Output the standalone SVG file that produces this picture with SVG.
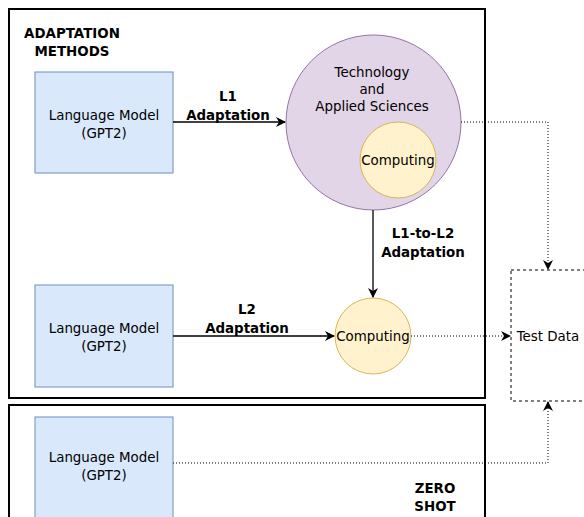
<svg xmlns="http://www.w3.org/2000/svg" width="584" height="517" viewBox="0 0 584 517">
<style>
text{font-family:"DejaVu Sans",Verdana,sans-serif;font-size:13.4px;fill:#000;text-anchor:middle;dominant-baseline:central}
.b{font-weight:bold}
.frame{fill:#fff;stroke:#000;stroke-width:2}
.lm{fill:#dae8fc;stroke:#6c8ebf;stroke-width:1}
.dom{fill:#e1d5e7;stroke:#9673a6;stroke-width:1}
.sub{fill:#fff2cc;stroke:#d6b656;stroke-width:1}
.solid{fill:none;stroke:#000;stroke-width:1.3}
.dot{fill:none;stroke:#000;stroke-width:1;stroke-dasharray:1 2}
</style>
<defs>
<marker id="ah" viewBox="0 0 10 10" refX="9" refY="5" markerWidth="10" markerHeight="10" markerUnits="userSpaceOnUse" orient="auto">
<path d="M0,0 L10,5 L0,10 L3,5 Z" fill="#000"/>
</marker>
</defs>
<rect width="584" height="517" fill="#fff"/>
<g id="adaptation-frame">
<rect class="frame" x="9" y="9" width="476" height="389"/>
<text class="b" x="72" y="33">ADAPTATION</text>
<text class="b" x="72" y="51">METHODS</text>
</g>
<g id="zeroshot-frame">
<rect class="frame" x="9" y="405" width="476" height="130"/>
<text class="b" x="435" y="488">ZERO</text>
<text class="b" x="435" y="506">SHOT</text>
</g>
<g id="test-data">
<rect x="511" y="270" width="75" height="131" fill="#fff" stroke="#000" stroke-width="1" stroke-dasharray="3 3"/>
<text x="548" y="336">Test Data</text>
</g>
<g id="lm1">
<rect class="lm" x="35" y="72" width="138" height="101"/>
<text x="104" y="115">Language Model</text>
<text x="104" y="133">(GPT2)</text>
</g>
<g id="lm2">
<rect class="lm" x="35" y="285" width="138" height="102"/>
<text x="104" y="328">Language Model</text>
<text x="104" y="346">(GPT2)</text>
</g>
<g id="lm3">
<rect class="lm" x="35" y="417" width="138" height="101"/>
<text x="104" y="457">Language Model</text>
<text x="104" y="475">(GPT2)</text>
</g>
<g id="tech">
<circle class="dom" cx="373.5" cy="122.5" r="87.5"/>
<text x="372" y="72">Technology</text>
<text x="372" y="89">and</text>
<text x="372" y="106">Applied Sciences</text>
</g>
<g id="computing-inner">
<circle class="sub" cx="398" cy="160" r="38"/>
<text x="398" y="160">Computing</text>
</g>
<g id="computing">
<circle class="sub" cx="373" cy="336" r="38"/>
<text x="373" y="336">Computing</text>
</g>
<g id="connectors">
<line class="solid" x1="173" y1="122" x2="285" y2="122" marker-end="url(#ah)"/>
<line class="solid" x1="373" y1="210" x2="373" y2="297" marker-end="url(#ah)"/>
<line class="solid" x1="173" y1="336" x2="334" y2="336" marker-end="url(#ah)"/>
<polyline class="dot" points="461,122 548,122 548,269" marker-end="url(#ah)"/>
<line class="dot" x1="411" y1="336" x2="510" y2="336" marker-end="url(#ah)"/>
<polyline class="dot" points="173,463 548,463 548,402" marker-end="url(#ah)"/>
<g class="labels">
<text class="b" x="228" y="96">L1</text>
<text class="b" x="228" y="115">Adaptation</text>
<text class="b" x="423" y="233">L1-to-L2</text>
<text class="b" x="423" y="252">Adaptation</text>
<text class="b" x="247" y="309">L2</text>
<text class="b" x="247" y="328">Adaptation</text>
</g>
</g>
</svg>
